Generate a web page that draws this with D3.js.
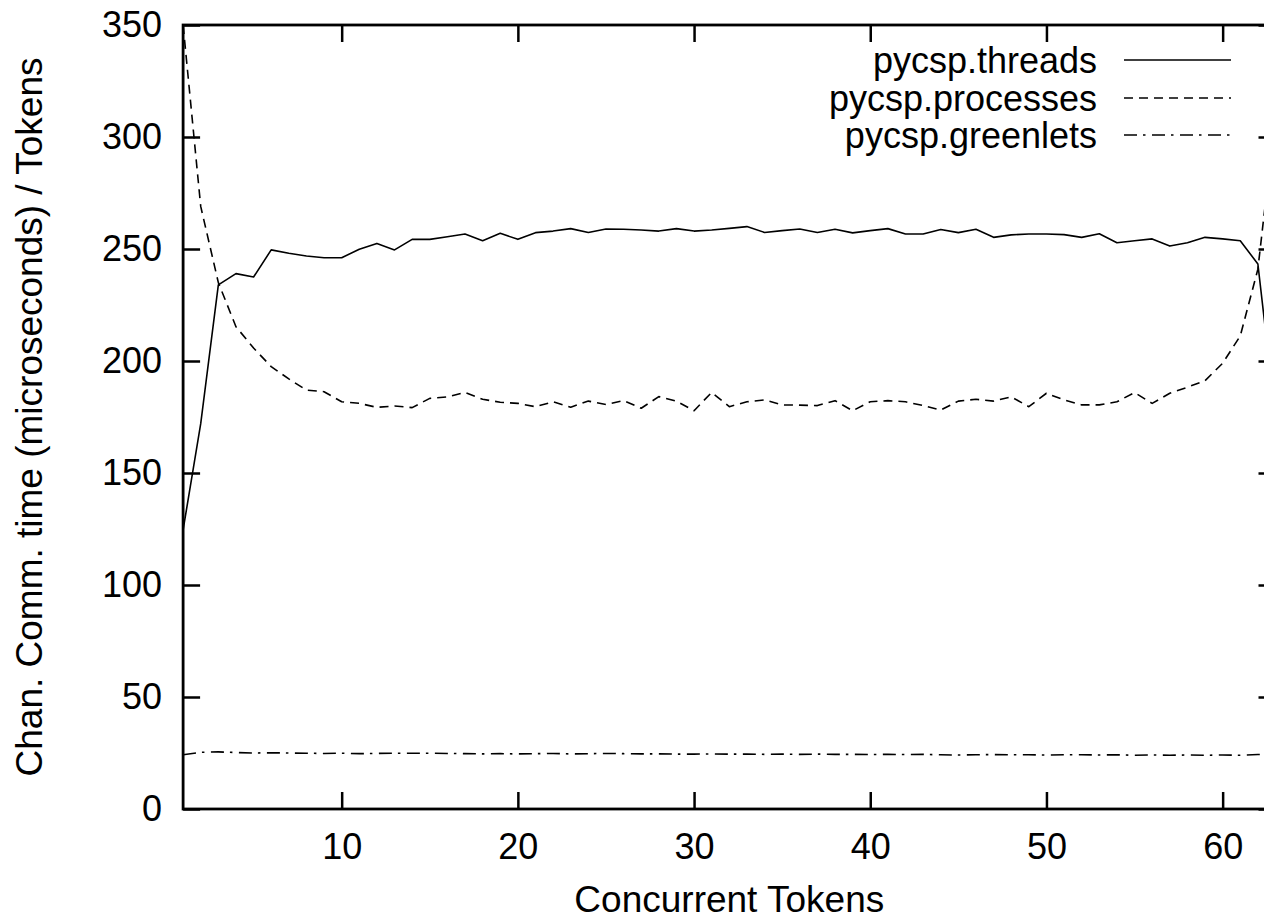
<!DOCTYPE html>
<html>
<head>
<meta charset="utf-8">
<script src="https://cdn.jsdelivr.net/npm/d3@7"></script>
<style>
  html, body { margin: 0; padding: 0; background: #fff; overflow: hidden; }
  svg { display: block; }
  text { font-family: "Liberation Sans", Arial, Helvetica, sans-serif; fill: #000; }
</style>
</head>
<body>
<svg id="chart" width="1264" height="919"></svg>
<script>
// ---- data ----
const tokens = d3.range(1, 64); // 1..63
const threads = [124.6, 172, 234, 239, 237.5, 249.6, 248.1, 246.9, 246.1, 246.1,
  249.9, 252.5, 249.6, 254.3, 254.3, 255.5, 256.7, 253.7, 257, 254.3,
  257.3, 258, 259.1, 257.4, 258.9, 258.8, 258.5, 258, 259.1, 258,
  258.5, 259.2, 260, 257.4, 258.2, 258.9, 257.4, 258.8, 257.2, 258.2,
  259.1, 256.7, 256.7, 258.7, 257.3, 258.8, 255.2, 256.3, 256.7, 256.7,
  256.4, 255.2, 256.8, 252.8, 253.7, 254.5, 251.3, 252.8, 255.2, 254.5,
  253.7, 243.3, 175];
const processes = [350, 269, 235, 215.3, 205.8, 197.5, 192, 187, 186.3, 181.8,
  181.1, 179.3, 179.9, 179.2, 183.3, 184, 186, 182.9, 181.6, 181.1,
  179.6, 181.8, 179.4, 182.1, 180.6, 182.3, 178.9, 184.1, 182.1, 177.8,
  186, 179.6, 181.8, 182.6, 180.4, 180.3, 180.1, 182.3, 177.8, 181.8,
  182.3, 181.8, 180.1, 178.1, 182.1, 182.9, 182.1, 184, 179.6, 185.6,
  182.6, 180.4, 180.4, 181.8, 185.9, 181.1, 185.6, 188.3, 191.2, 199,
  211.2, 241, 310];
const greenlets = [24.2, 25.3, 25.5, 25.2, 25.0, 25.1, 25.0, 24.9, 24.8, 24.9,
  24.7, 24.8, 24.9, 24.9, 24.9, 24.8, 24.7, 24.6, 24.7, 24.6,
  24.7, 24.8, 24.6, 24.7, 24.8, 24.7, 24.6, 24.6, 24.5, 24.5,
  24.6, 24.5, 24.5, 24.4, 24.5, 24.4, 24.5, 24.4, 24.4, 24.3,
  24.4, 24.3, 24.4, 24.2, 24.1, 24.2, 24.3, 24.2, 24.2, 24.1,
  24.2, 24.2, 24.1, 24.2, 24.0, 24.1, 24.0, 24.1, 24.0, 24.1,
  24.0, 24.3, 24.5];
const seriesNames = ["pycsp.threads", "pycsp.processes", "pycsp.greenlets"];
const xTicks = [10, 20, 30, 40, 50, 60];
const yTicks = [0, 50, 100, 150, 200, 250, 300, 350];
const xTitle = "Concurrent Tokens";
const yTitle = "Chan. Comm. time (microseconds) / Tokens";

// ---- layout ----
const L = 183.1, R = 1275.5, T = 25, B = 809;
const x = d3.scaleLinear().domain([1, 63]).range([L, R]);
const y = d3.scaleLinear().domain([0, 350]).range([B, T]);
const svg = d3.select("#chart");
const dashes = ["none", "9,6", "13,6,2.5,6.5"];
const FS = 36;

svg.append("defs").append("clipPath").attr("id", "plot")
  .append("rect").attr("x", L).attr("y", T).attr("width", R - L).attr("height", B - T);

// axes
const tickLen = 17;
function styleAxis(g) {
  g.select(".domain").remove();
  g.selectAll(".tick line").attr("stroke", "#000").attr("stroke-width", 2.5);
  g.selectAll(".tick text").attr("font-size", FS).style("font-family", '"Liberation Sans", Arial, sans-serif').attr("fill", "#000");
}
svg.append("g").attr("transform", `translate(0,${B})`)
  .call(d3.axisBottom(x).tickValues(xTicks).tickSizeInner(-tickLen).tickSizeOuter(0).tickPadding(24))
  .call(styleAxis);
svg.append("g").attr("transform", `translate(0,${T})`)
  .call(d3.axisTop(x).tickValues(xTicks).tickSizeInner(-tickLen).tickSizeOuter(0).tickFormat(""))
  .call(styleAxis);
svg.append("g").attr("transform", `translate(${L},0)`)
  .call(d3.axisLeft(y).tickValues(yTicks).tickSizeInner(-tickLen).tickSizeOuter(0).tickPadding(21))
  .call(styleAxis);
svg.append("g").attr("transform", `translate(${R},0)`)
  .call(d3.axisRight(y).tickValues(yTicks).tickSizeInner(-tickLen).tickSizeOuter(0).tickFormat(""))
  .call(styleAxis);

// frame
svg.append("rect").attr("x", L).attr("y", T).attr("width", R - L).attr("height", B - T)
  .attr("fill", "none").attr("stroke", "#000").attr("stroke-width", 2.8);

// lines
const allSeries = [threads, processes, greenlets];
const line = d3.line().x((d, i) => x(tokens[i])).y(d => y(d));
const lg = svg.append("g").attr("clip-path", "url(#plot)");
allSeries.forEach((s, k) => {
  lg.append("path").datum(s).attr("d", line)
    .attr("fill", "none").attr("stroke", "#000").attr("stroke-width", 1.6)
    .attr("stroke-linejoin", "round")
    .attr("stroke-dasharray", dashes[k]);
});

// legend
const legRows = [60, 98, 135];
seriesNames.forEach((n, k) => {
  svg.append("text").attr("x", 1097).attr("y", legRows[k]).attr("dy", "0.35em")
    .attr("text-anchor", "end").attr("font-size", FS).text(n);
  svg.append("line").attr("x1", 1124).attr("x2", 1231).attr("y1", legRows[k]).attr("y2", legRows[k])
    .attr("stroke", "#000").attr("stroke-width", 1.6).attr("stroke-dasharray", dashes[k]);
});

// titles
svg.append("text").attr("x", (L + R) / 2).attr("y", 912).attr("text-anchor", "middle")
  .attr("font-size", 37).text(xTitle);
svg.append("text").attr("transform", `translate(42,${(T + B) / 2}) rotate(-90)`)
  .attr("text-anchor", "middle").attr("font-size", 37).text(yTitle);
</script>
</body>
</html>
